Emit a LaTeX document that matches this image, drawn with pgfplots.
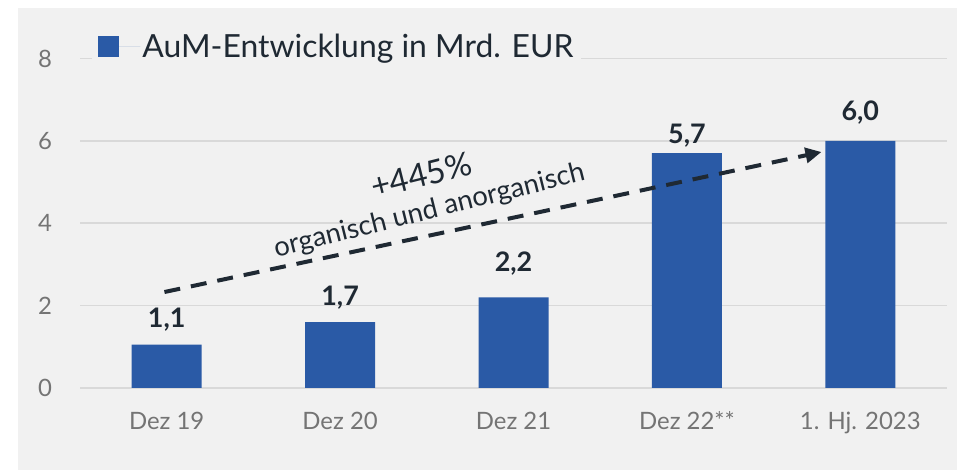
\documentclass[border=0pt]{standalone}
\usepackage{fontspec}
\setmainfont{Lato}
\usepackage{pgfplots}
\pgfplotsset{compat=1.18}
\usepackage{pgfplotstable}
\usetikzlibrary{arrows.meta}
\definecolor{bgc}{HTML}{F1F1F1}
\definecolor{barblue}{HTML}{2A5AA6}
\definecolor{darktxt}{HTML}{1F2933}
\definecolor{ticktxt}{HTML}{747474}
\definecolor{gridc}{HTML}{D9D9D9}

\pgfplotstableread{
x val lab off
0 1.05 1,1 17
1 1.60 1,7 17
2 2.20 2,2 26
3 5.70 5,7 10
4 6.00 6,0 20
}\aumdata

\begin{document}
\begin{tikzpicture}[x=1bp,y=1bp]
\fill[white] (0,0) rectangle (957,470);
\fill[bgc] (18,0) rectangle (957,462);
\begin{axis}[
  at={(80bp,82bp)}, anchor=south west,
  scale only axis, width=867bp, height=329.5bp,
  xmin=-0.5, xmax=4.5, ymin=0, ymax=8,
  ytick={0,2,4,6,8},
  xtick={0,1,2,3,4},
  xticklabels={Dez 19,Dez 20,Dez 21,Dez 22**,1. Hj. 2023},
  axis line style={draw=none},
  major tick length=0pt,
  ymajorgrids,
  grid style={gridc, line width=1.6bp},
  tick label style={font=\fontsize{24}{28}\selectfont, text=ticktxt},
  /pgf/number format/assume math mode=true,
  yticklabel style={anchor=center, xshift=-35bp},
  xticklabel style={anchor=base, yshift=-42bp},
  ybar, bar width=70bp,
  legend style={at={(0.014,1.035)}, anchor=west, fill=bgc, draw=none,
    font=\fontsize{32}{36}\selectfont, text=darktxt,
    inner xsep=6bp, inner ysep=4bp},
  legend image code/.code={\fill[barblue] (0bp,-10.5bp) rectangle (21bp,10.5bp);
    \path (0bp,0bp) -- (42bp,0bp);},
]
\addplot[fill=barblue, draw=none,
  nodes near coords, point meta=explicit symbolic,
  visualization depends on={\thisrow{off} \as \off},
  every node near coord/.append style={anchor=base, yshift=\off*1bp,
    font=\bfseries\fontsize{27}{30}\selectfont, text=darktxt}]
  table[x=x, y=val, meta=lab]{\aumdata};
\addlegendentry{AuM-Entwicklung in Mrd. EUR}
\draw[darktxt, line width=4bp, dash pattern=on 16bp off 11bp,
  -{Triangle[length=16bp,width=15bp]}]
  (axis cs:-0.013,2.33) -- (axis cs:3.776,5.73);
\node[rotate=14, font=\fontsize{33}{36}\selectfont, text=darktxt]
  at (axis cs:1.469,5.17) {+445\%};
\node[rotate=14, font=\fontsize{27.5}{30}\selectfont, text=darktxt]
  at (axis cs:1.515,4.29) {organisch und anorganisch};
\end{axis}
\end{tikzpicture}
\end{document}
